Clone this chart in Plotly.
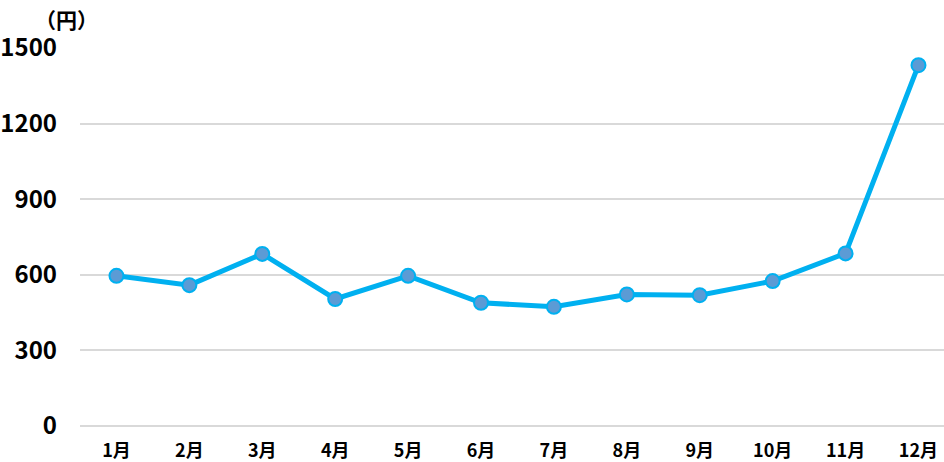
import plotly.graph_objects as go

months = ["1月", "2月", "3月", "4月", "5月", "6月", "7月", "8月", "9月", "10月", "11月", "12月"]
values = [596, 559, 683, 504, 596, 489, 473, 522, 519, 575, 685, 1432]
y_ticks = [0, 300, 600, 900, 1200, 1500]

FONT = "Liberation Sans Narrow, Noto Sans CJK JP, sans-serif"

fig = go.Figure()
fig.add_trace(go.Scatter(
    x=months, y=values, mode="lines+markers",
    line=dict(color="#00B0F0", width=5),
    marker=dict(size=14, color="#5B9BD5", line=dict(color="#00B0F0", width=2)),
    cliponaxis=False,
))

fig.update_layout(
    width=944, height=462,
    margin=dict(l=80, r=0, t=48, b=36),
    paper_bgcolor="white", plot_bgcolor="white",
    showlegend=False,
    font=dict(family=FONT, size=17, color="black"),
    xaxis=dict(type="category", range=[-0.5, 11.35], showgrid=False, zeroline=False,
               showline=False, ticks="", ticklabelstandoff=12, automargin=False,
               tickfont=dict(family=FONT, size=18, weight="bold")),
    yaxis=dict(range=[0, 1500], tickvals=y_ticks, showgrid=True, gridcolor="#D9D9D9",
               gridwidth=2, zeroline=True, zerolinecolor="#D9D9D9", zerolinewidth=2,
               showline=False, ticks="", ticklabelstandoff=22, automargin=False,
               tickfont=dict(family=FONT, size=24, weight="bold")),
    annotations=[dict(text="（円）", x=-0.016, y=1.078, xref="paper", yref="paper",
                      xanchor="center", yanchor="middle", showarrow=False,
                      font=dict(family="Noto Sans CJK JP, sans-serif", size=21, weight="bold"))],
)

fig.write_html("out.html", post_script="document.body.style.margin='0';",
               config={"displayModeBar": False})
